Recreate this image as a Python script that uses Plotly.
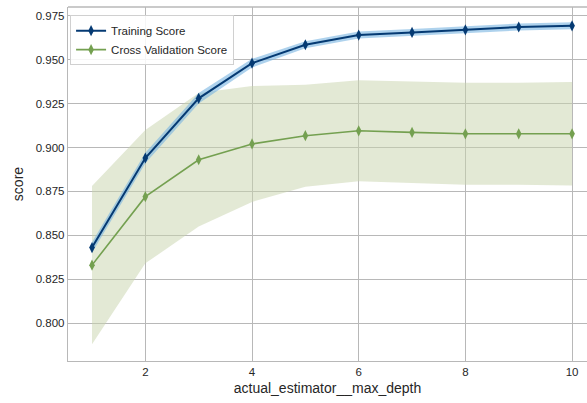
import plotly.graph_objects as go

depth = [1, 2, 3, 4, 5, 6, 7, 8, 9, 10]
train_score = [0.843, 0.894, 0.928, 0.948, 0.9585, 0.964, 0.9655, 0.967, 0.9686, 0.9693]
train_std = [0.003, 0.003, 0.003, 0.0025, 0.002, 0.002, 0.002, 0.002, 0.002, 0.002]
cv_score = [0.833, 0.872, 0.893, 0.902, 0.9067, 0.9095, 0.9086, 0.9078, 0.9078, 0.9078]
cv_std = [0.045, 0.038, 0.038, 0.033, 0.029, 0.0288, 0.029, 0.029, 0.029, 0.0295]
y_ticks = [0.800, 0.825, 0.850, 0.875, 0.900, 0.925, 0.950, 0.975]
x_ticks = [2, 4, 6, 8, 10]

train_col = "#053a73"
cv_col = "#74a050"

def band(y, s):
    up = [a + b for a, b in zip(y, s)]
    lo = [a - b for a, b in zip(y, s)]
    return up, lo

fig = go.Figure()

cv_up, cv_lo = band(cv_score, cv_std)
fig.add_trace(go.Scatter(x=depth + depth[::-1], y=cv_up + cv_lo[::-1], fill="toself",
                         fillcolor="rgba(200,212,172,0.5)", line=dict(width=0),
                         hoverinfo="skip", showlegend=False, mode="lines"))
tr_up, tr_lo = band(train_score, train_std)
fig.add_trace(go.Scatter(x=depth + depth[::-1], y=tr_up + tr_lo[::-1], fill="toself",
                         fillcolor="rgba(120,180,225,0.6)", line=dict(width=0),
                         hoverinfo="skip", showlegend=False, mode="lines"))

fig.add_trace(go.Scatter(x=depth, y=train_score, mode="lines+markers", name="Training Score",
                         line=dict(color=train_col, width=2),
                         marker=dict(symbol="diamond-tall", size=8, color=train_col)))
fig.add_trace(go.Scatter(x=depth, y=cv_score, mode="lines+markers", name="Cross Validation Score",
                         line=dict(color=cv_col, width=1.6),
                         marker=dict(symbol="diamond-tall", size=8, color=cv_col)))

grid = "#b8b8b8"
fig.update_layout(
    width=587, height=403,
    margin=dict(l=68, r=0, t=7, b=42),
    paper_bgcolor="white", plot_bgcolor="white",
    font=dict(family="Liberation Sans, Arial, sans-serif", size=11.5, color="#262626"),
    showlegend=True,
    legend=dict(x=0.004, y=0.977, xanchor="left", yanchor="top",
                bgcolor="rgba(255,255,255,0.85)", bordercolor="#d0d0d0", borderwidth=1,
                font=dict(size=11.5), tracegroupgap=0, itemwidth=30),
    xaxis=dict(range=[0.55, 10.28], tickvals=x_ticks, showgrid=True, gridcolor=grid, gridwidth=1.4,
               showline=True, linecolor=grid, linewidth=1.4, zeroline=False,
               ticks="", title=dict(text="actual_estimator__max_depth", standoff=6)),
    yaxis=dict(range=[0.7784, 0.980], tickvals=y_ticks, tickformat=".3f", showgrid=True,
               gridcolor=grid, gridwidth=1.4, showline=True, linecolor=grid, linewidth=1.4,
               zeroline=False, ticks="", title=dict(text="score", standoff=8)),
    shapes=[dict(type="line", xref="paper", yref="paper", x0=0, x1=1, y0=1, y1=1,
                 line=dict(color=grid, width=1.4))],
)

fig.write_html("out.html")
